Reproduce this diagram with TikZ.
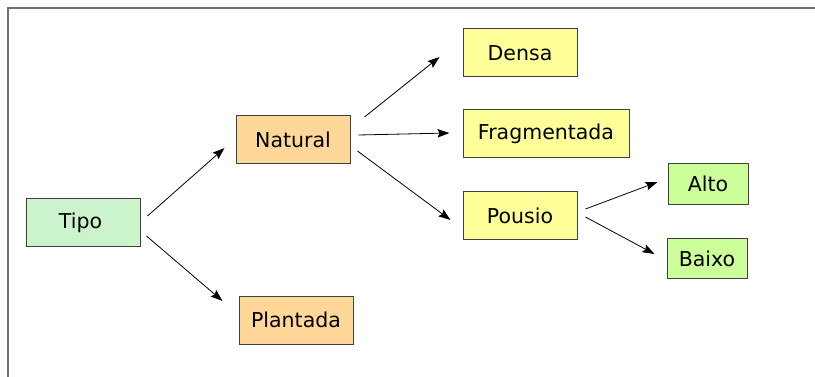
\documentclass[tikz,border=0pt]{standalone}
\usepackage{fontspec}
\setmainfont{DejaVu Sans}
\usetikzlibrary{calc,arrows.meta}
\definecolor{cgreen}{HTML}{CCF4CC}
\definecolor{corange}{HTML}{FFD899}
\definecolor{cyellow}{HTML}{FFFF99}
\definecolor{clime}{HTML}{CCFF99}
\definecolor{cborder}{HTML}{404040}
\definecolor{cframe}{HTML}{707070}
\begin{document}
\begin{tikzpicture}[x=1pt,y=-1pt,
  box/.style={draw=cborder,line width=1pt,minimum height=48pt,minimum width=114pt,inner sep=0pt,font=\fontsize{20.5}{24}\selectfont},
  smallbox/.style={box,minimum height=40.5pt,minimum width=80pt},
  arr/.style={-{Stealth[length=12pt,width=8.5pt,inset=2pt]},line width=0.8pt}]
\useasboundingbox (0,0) rectangle (815,377);
\draw[cframe,line width=1.5pt] (8,377) -- (8,8) -- (815,8);
\node[box,fill=cgreen] (tipo) at (83,222.5) {\hspace*{-5pt}Tipo};
\node[box,fill=corange] (natural) at (293,140) {Natural};
\node[box,fill=corange] (plantada) at (296,320) {Plantada};
\node[box,fill=cyellow] (densa) at (520,53) {Densa};
\node[box,fill=cyellow,minimum width=166pt] (frag) at (546,134) {Fragmentada};
\node[box,fill=cyellow] (pousio) at (520,216) {Pousio};
\node[smallbox,fill=clime] (alto) at (708,184) {Alto};
\node[smallbox,fill=clime] (baixo) at (707,258.5) {Baixo};
\draw[arr] ($(tipo.east)+(7,-6.5)$) -- ($(natural.west)+(-11,8)$);
\draw[arr] ($(tipo.east)+(6,13.5)$) -- ($(plantada.west)+(-16,-19)$);
\draw[arr] ($(natural.east)+(14,-23)$) -- ($(densa.west)+(-23,4)$);
\draw[arr] ($(natural.east)+(8,-5)$) -- ($(frag.west)+(-13,-1)$);
\draw[arr] ($(natural.east)+(7,11)$) -- ($(pousio.west)+(-12,4)$);
\draw[arr] ($(pousio.east)+(8,-7)$) -- ($(alto.west)+(-10,-2)$);
\draw[arr] ($(pousio.east)+(8,1)$) -- ($(baixo.west)+(-12,-4.5)$);
\end{tikzpicture}
\end{document}
